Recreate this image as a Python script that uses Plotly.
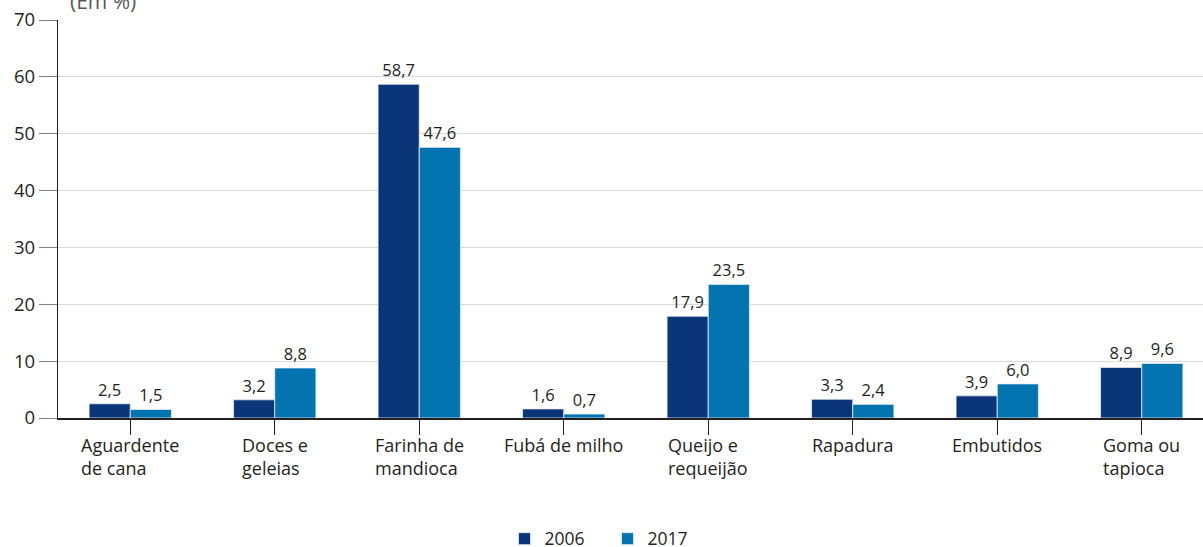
import plotly.graph_objects as go

# data
categorias = ["Aguardente<br>de cana", "Doces e<br>geleias", "Farinha de<br>mandioca", "Fubá de milho",
              "Queijo e<br>requeijão", "Rapadura", "Embutidos", "Goma ou<br>tapioca"]
valores_2006 = [2.5, 3.2, 58.7, 1.6, 17.9, 3.3, 3.9, 8.9]
valores_2017 = [1.5, 8.8, 47.6, 0.7, 23.5, 2.4, 6.0, 9.6]
y_ticks = [0, 10, 20, 30, 40, 50, 60, 70]

FONTE = "Open Sans"
COR_TEXTO = "#231f20"

def fmt(v):
    return f"{v:.1f}".replace(".", ",")

x = list(range(len(categorias)))

fig = go.Figure()
fig.add_trace(go.Bar(
    x=x, y=valores_2006, name="2006", marker_color="#0a3579",
    marker_line=dict(color="#e8eef5", width=0.8),
    text=[fmt(v) for v in valores_2006], textposition="outside", cliponaxis=False,
    textfont=dict(size=16.5, color=COR_TEXTO, family=FONTE),
))
fig.add_trace(go.Bar(
    x=x, y=valores_2017, name="2017", marker_color="#0374b0",
    marker_line=dict(color="#e8eef5", width=0.8),
    text=[fmt(v) for v in valores_2017], textposition="outside", cliponaxis=False,
    textfont=dict(size=16.5, color=COR_TEXTO, family=FONTE),
))

# category labels, left aligned lines
for i, c in enumerate(categorias):
    fig.add_annotation(x=i, xref="x", y=0, yref="paper", yanchor="top", yshift=-13,
                       text=c, showarrow=False, align="left",
                       font=dict(size=18, color=COR_TEXTO, family=FONTE))

# title partly cut at the top, as in the source
fig.add_annotation(x=10 / 1145, xref="paper", y=1, yref="paper",
                   xanchor="left", yanchor="bottom", yshift=3, text="(Em %)",
                   showarrow=False, font=dict(size=21, color="#58595b", family=FONTE))

fig.update_layout(
    width=1203, height=547,
    margin=dict(l=58, r=0, t=20, b=129),
    paper_bgcolor="white", plot_bgcolor="white",
    barmode="group", bargap=0.43, bargroupgap=0,
    font=dict(family=FONTE, size=16, color=COR_TEXTO),
    xaxis=dict(range=[-0.5, 7.424], tickmode="array", tickvals=x, ticktext=[""] * len(x),
               tickson="boundaries", ticks="outside", ticklen=15, tickcolor="#231f20",
               showline=True, linecolor="#231f20", linewidth=1.5, showgrid=False, zeroline=False),
    yaxis=dict(range=[0, 70], tickvals=y_ticks, ticks="outside", ticklen=18, tickcolor="#808080",
               showline=True, linecolor="#231f20", linewidth=1.2,
               showgrid=True, gridcolor="#d9d9d9", gridwidth=1, zeroline=False,
               tickfont=dict(size=18.5, color=COR_TEXTO)),
    showlegend=True,
    legend=dict(orientation="h", xref="container", yref="container", x=0.505, xanchor="center",
                y=0.015, yanchor="middle", font=dict(size=17.5, color=COR_TEXTO),
                itemwidth=30, entrywidth=58, traceorder="normal"),
)

fig.write_html("out.html", config={"displayModeBar": False},
               post_script="document.body.style.margin='0';")
